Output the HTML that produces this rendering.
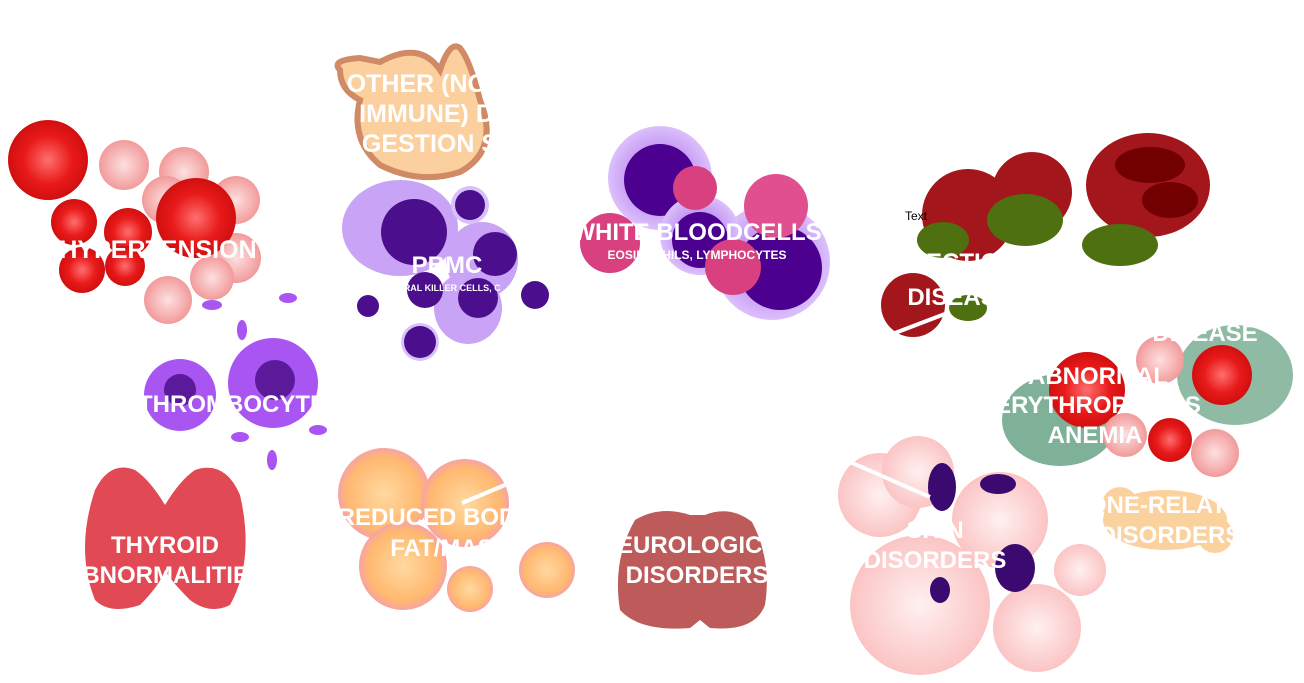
<!DOCTYPE html>
<html><head><meta charset="utf-8"><style>
html,body{margin:0;padding:0;background:#fff;}
svg{display:block}
text{font-family:"Liberation Sans",sans-serif;font-weight:bold;fill:#fff;text-anchor:middle}
</style></head><body>
<svg width="1304" height="683" viewBox="0 0 1304 683">
<defs>
<radialGradient id="rbc"><stop offset="0" stop-color="#ff6f6f"/><stop offset="0.6" stop-color="#e81a1a"/><stop offset="1" stop-color="#d10f0f"/></radialGradient>
<radialGradient id="prbc"><stop offset="0" stop-color="#fde0e0"/><stop offset="1" stop-color="#f29a9a"/></radialGradient>
<radialGradient id="pink"><stop offset="0" stop-color="#fff0f0"/><stop offset="1" stop-color="#fbc4c4"/></radialGradient>
<radialGradient id="fat"><stop offset="0" stop-color="#ffd9a0"/><stop offset="0.8" stop-color="#ffb870"/><stop offset="1" stop-color="#f7a3a3"/></radialGradient>
<radialGradient id="wbc"><stop offset="0.6" stop-color="#c59af5"/><stop offset="1" stop-color="#dcc0fb"/></radialGradient>
</defs>

<g>
<circle cx="124" cy="165" r="25" fill="url(#prbc)"/><circle cx="184" cy="172" r="25" fill="url(#prbc)"/>
<circle cx="236" cy="200" r="24" fill="url(#prbc)"/><circle cx="166" cy="200" r="24" fill="url(#prbc)"/>
<circle cx="236" cy="258" r="25" fill="url(#prbc)"/><circle cx="168" cy="300" r="24" fill="url(#prbc)"/>
<circle cx="212" cy="278" r="22" fill="url(#prbc)"/>
<circle cx="48" cy="160" r="40" fill="url(#rbc)"/><circle cx="196" cy="218" r="40" fill="url(#rbc)"/>
<circle cx="74" cy="222" r="23" fill="url(#rbc)"/><circle cx="128" cy="232" r="24" fill="url(#rbc)"/>
<circle cx="82" cy="270" r="23" fill="url(#rbc)"/><circle cx="125" cy="266" r="20" fill="url(#rbc)"/>
<text x="158" y="258" font-size="25">HYPERTENSION</text>
</g>

<g>
<path d="M340 70 Q330 60 360 58 L380 62 Q420 40 440 70 Q450 40 460 48 Q470 60 480 100 Q500 150 460 172 Q420 185 380 165 Q350 140 360 100 Q340 90 340 70Z" fill="#fbcf9e" stroke="#d08a66" stroke-width="6"/>
<text x="430" y="92" font-size="25">OTHER (NON-</text>
<text x="430" y="122" font-size="25">IMMUNE) DI</text>
<text x="430" y="152" font-size="25">GESTION S</text>
</g>

<g>
<ellipse cx="400" cy="228" rx="58" ry="48" fill="#c9a3f5"/><circle cx="414" cy="232" r="33" fill="#4b0f8e"/>
<ellipse cx="482" cy="260" rx="36" ry="38" fill="#c9a3f5"/><circle cx="495" cy="254" r="22" fill="#4b0f8e"/>
<ellipse cx="468" cy="308" rx="34" ry="36" fill="#c9a3f5"/><circle cx="478" cy="298" r="20" fill="#4b0f8e"/>
<circle cx="470" cy="205" r="19" fill="#d8c0fa"/><circle cx="470" cy="205" r="15" fill="#4b0f8e"/>
<circle cx="420" cy="342" r="19" fill="#d8c0fa"/><circle cx="420" cy="342" r="16" fill="#4b0f8e"/>
<circle cx="368" cy="306" r="11" fill="#4b0f8e"/><circle cx="535" cy="295" r="14" fill="#4b0f8e"/>
<circle cx="425" cy="290" r="18" fill="#4b0f8e"/>
<text x="447" y="273" font-size="24">PBMC</text>
<text x="440" y="291" font-size="9">NATURAL KILLER CELLS, C</text>
</g>

<g>
<circle cx="660" cy="178" r="52" fill="url(#wbc)"/><circle cx="660" cy="180" r="36" fill="#4b0090"/>
<circle cx="772" cy="262" r="58" fill="url(#wbc)"/><circle cx="780" cy="268" r="42" fill="#4b0090"/>
<circle cx="700" cy="235" r="40" fill="url(#wbc)"/><circle cx="700" cy="240" r="28" fill="#4b0090"/>
<circle cx="610" cy="243" r="30" fill="#d8407f"/><circle cx="695" cy="188" r="22" fill="#d8407f"/>
<circle cx="776" cy="206" r="32" fill="#e04f8f"/><circle cx="733" cy="267" r="28" fill="#d8407f"/>
<text x="697" y="240" font-size="24">WHITE BLOODCELLS</text>
<text x="697" y="259" font-size="12">EOSINOPHILS, LYMPHOCYTES</text>
</g>

<g>
<circle cx="968" cy="215" r="46" fill="#a3161b"/><circle cx="1032" cy="192" r="40" fill="#a3161b"/>
<ellipse cx="1148" cy="185" rx="62" ry="52" fill="#a3161b"/><circle cx="913" cy="305" r="32" fill="#a3161b"/>
<ellipse cx="1150" cy="165" rx="35" ry="18" fill="#720000"/><ellipse cx="1170" cy="200" rx="28" ry="18" fill="#720000"/>
<ellipse cx="1025" cy="220" rx="38" ry="26" fill="#4e7010"/><ellipse cx="943" cy="240" rx="26" ry="18" fill="#4e7010"/>
<ellipse cx="1120" cy="245" rx="38" ry="21" fill="#4e7010"/><ellipse cx="968" cy="308" rx="19" ry="13" fill="#4e7010"/>
<line x1="895" y1="333" x2="950" y2="312" stroke="#fff" stroke-width="4"/>
<text x="916" y="220" font-size="12" font-weight="normal" style="fill:#000;font-weight:normal">Text</text>
<text x="960" y="270" font-size="24">INFECTIOUS</text>
<text x="960" y="305" font-size="24">DISEASE</text>
</g>

<g>
<circle cx="180" cy="395" r="36" fill="#a855f2"/><circle cx="273" cy="383" r="45" fill="#a855f2"/>
<circle cx="180" cy="390" r="16" fill="#5a1a9a"/><circle cx="275" cy="380" r="20" fill="#5a1a9a"/>
<ellipse cx="212" cy="305" rx="10" ry="5" fill="#a855f2"/><ellipse cx="288" cy="298" rx="9" ry="5" fill="#a855f2"/>
<ellipse cx="240" cy="437" rx="9" ry="5" fill="#a855f2"/><ellipse cx="272" cy="460" rx="5" ry="10" fill="#a855f2"/>
<ellipse cx="318" cy="430" rx="9" ry="5" fill="#a855f2"/><ellipse cx="242" cy="330" rx="5" ry="10" fill="#a855f2"/>
<text x="240" y="412" font-size="24">THROMBOCYTES</text>
</g>

<g>
<path d="M95 490 Q110 460 135 470 Q150 480 165 505 Q180 480 195 470 Q225 460 240 495 Q255 560 230 605 Q210 615 190 600 Q170 580 165 570 Q160 585 140 605 Q110 615 95 600 Q75 550 95 490Z" fill="#e14a55"/>
<text x="165" y="553" font-size="24">THYROID</text>
<text x="165" y="583" font-size="24">ABNORMALITIES</text>
</g>

<g>
<circle cx="384" cy="494" r="46" fill="url(#fat)"/><circle cx="465" cy="503" r="44" fill="url(#fat)"/>
<circle cx="403" cy="566" r="44" fill="url(#fat)"/><circle cx="470" cy="589" r="23" fill="url(#fat)"/>
<circle cx="547" cy="570" r="28" fill="url(#fat)"/>
<line x1="505" y1="485" x2="462" y2="503" stroke="#fff" stroke-width="4"/>
<text x="435" y="525" font-size="24">REDUCED BODY</text>
<text x="450" y="556" font-size="24">FAT/MASS</text>
</g>

<g>
<path d="M690 515 Q660 505 635 520 Q612 560 620 610 Q640 632 690 628 L700 620 L710 628 Q755 632 765 605 Q772 560 752 522 Q730 505 705 515Z" fill="#bd5a5a"/>
<text x="697" y="553" font-size="24">NEUROLOGICAL</text>
<text x="697" y="583" font-size="24">DISORDERS</text>
</g>

<g>
<circle cx="880" cy="495" r="42" fill="url(#pink)"/><circle cx="918" cy="472" r="36" fill="url(#pink)"/>
<circle cx="920" cy="605" r="70" fill="url(#pink)"/><circle cx="1000" cy="520" r="48" fill="url(#pink)"/>
<circle cx="1037" cy="628" r="44" fill="url(#pink)"/><circle cx="1080" cy="570" r="26" fill="url(#pink)"/>
<ellipse cx="942" cy="487" rx="14" ry="24" fill="#3a0a70"/><ellipse cx="998" cy="484" rx="18" ry="10" fill="#3a0a70"/>
<ellipse cx="1015" cy="568" rx="20" ry="24" fill="#3a0a70"/><ellipse cx="940" cy="590" rx="10" ry="13" fill="#3a0a70"/>
<line x1="850" y1="462" x2="930" y2="497" stroke="#fff" stroke-width="4"/>
<text x="935" y="538" font-size="24">SKIN</text>
<text x="935" y="568" font-size="24">DISORDERS</text>
</g>

<g>
<ellipse cx="1060" cy="420" rx="58" ry="46" fill="#5f9e7e" opacity="0.8"/>
<ellipse cx="1235" cy="375" rx="58" ry="50" fill="#5f9e7e" opacity="0.7"/>
<circle cx="1160" cy="360" r="24" fill="url(#prbc)"/><circle cx="1215" cy="453" r="24" fill="url(#prbc)"/>
<circle cx="1087" cy="390" r="38" fill="url(#rbc)"/><circle cx="1222" cy="375" r="30" fill="url(#rbc)"/>
<circle cx="1170" cy="440" r="22" fill="url(#rbc)"/><circle cx="1125" cy="435" r="22" fill="url(#prbc)"/>
<text x="1205" y="341" font-size="24">DISEASE</text>
<text x="1098" y="384" font-size="24">ABNORMAL</text>
<text x="1098" y="413" font-size="24">ERYTHROPOESIS</text>
<text x="1095" y="443" font-size="24">ANEMIA</text>
</g>

<g>
<ellipse cx="1165" cy="520" rx="62" ry="30" fill="#fbd29e"/>
<circle cx="1120" cy="505" r="18" fill="#fbd29e"/><circle cx="1215" cy="535" r="18" fill="#fbd29e"/>
<text x="1165" y="513" font-size="24">BONE-RELATED</text>
<text x="1170" y="543" font-size="24">DISORDERS</text>
</g>
</svg>
</body></html>
